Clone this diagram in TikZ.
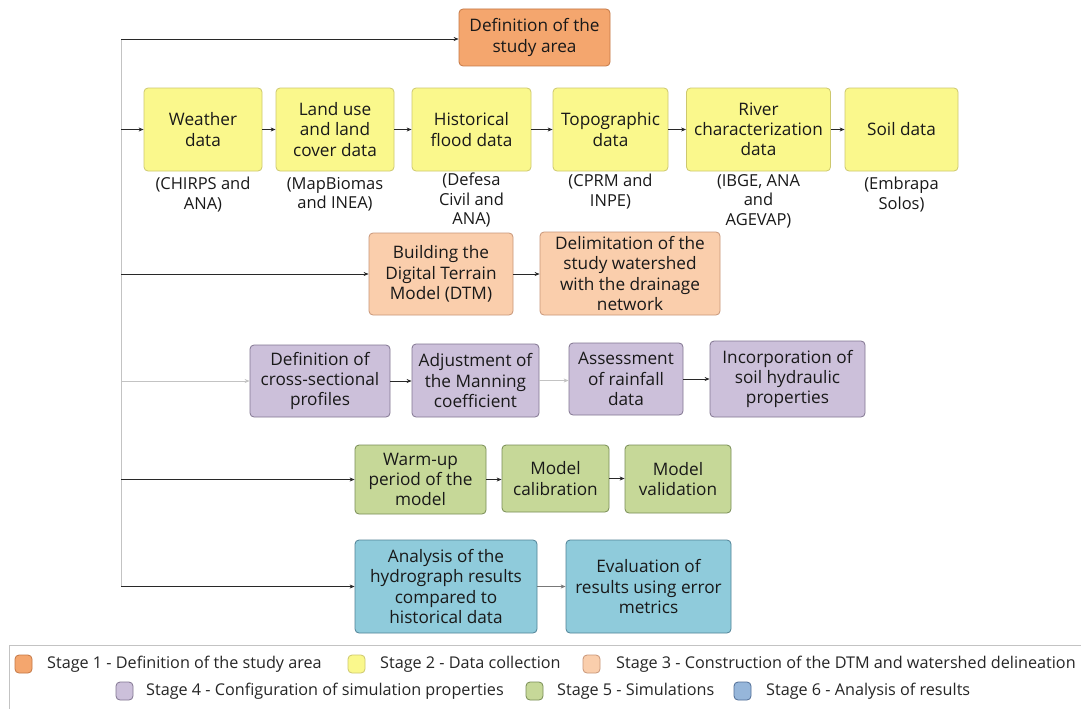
\documentclass[tikz,border=0pt]{standalone}
\usepackage{fontspec}
\setmainfont{Open Sans}
\usetikzlibrary{arrows.meta}
\definecolor{orF}{RGB}{244,166,110}
\definecolor{orD}{RGB}{196,120,70}
\definecolor{yeF}{RGB}{250,248,140}
\definecolor{yeD}{RGB}{205,200,110}
\definecolor{peF}{RGB}{250,206,172}
\definecolor{peD}{RGB}{200,150,120}
\definecolor{puF}{RGB}{204,192,218}
\definecolor{puD}{RGB}{130,118,145}
\definecolor{grF}{RGB}{198,216,152}
\definecolor{grD}{RGB}{120,140,85}
\definecolor{blF}{RGB}{143,203,219}
\definecolor{blD}{RGB}{80,130,150}
\definecolor{lbF}{RGB}{150,182,218}
\definecolor{lbD}{RGB}{80,110,150}
\definecolor{darkline}{RGB}{40,40,40}
\definecolor{lightline}{RGB}{195,195,195}
\definecolor{midline}{RGB}{120,120,120}
\tikzset{
  x=1pt, y=-1pt,
  box/.style={rounded corners=4pt, line width=0.8pt, align=center, inner sep=0pt,
    font=\fontsize{17.2}{20.2}\selectfont, text=black!90},
  orbox/.style={box, fill=orF, draw=orD},
  yebox/.style={box, fill=yeF, draw=yeD},
  pebox/.style={box, fill=peF, draw=peD},
  pubox/.style={box, fill=puF, draw=puD},
  grbox/.style={box, fill=grF, draw=grD},
  blbox/.style={box, fill=blF, draw=blD},
  src/.style={anchor=north, align=center, inner sep=0pt, font=\fontsize{16.5}{19.5}\selectfont, text=black!90},
  conn/.style={-{Stealth[length=5pt,width=4pt]}, line width=0.7pt, draw=darkline},
  lconn/.style={conn, draw=lightline},
  mconn/.style={conn, draw=midline},
  swatch/.style={rounded corners=4pt, line width=0.8pt, minimum width=17pt, minimum height=18pt, inner sep=0pt},
  legtext/.style={anchor=west, inner sep=0pt, font=\fontsize{16.2}{18}\selectfont, text=black!85},
}
\begin{document}
\begin{tikzpicture}
\useasboundingbox (0,0) rectangle (1081,709);
\fill[white] (0,0) rectangle (1081,709);

% Stage 1
\node[orbox, minimum width=151pt, minimum height=57pt] (study) at (534.5,37.5) {Definition of the\\study area};

% Stage 2
\node[yebox, minimum width=118pt, minimum height=83pt] (weather) at (203,129.5) {Weather\\data};
\node[yebox, minimum width=118pt, minimum height=83pt] (landuse) at (335,129.5) {Land use\\and land\\cover data};
\node[yebox, minimum width=119pt, minimum height=83pt] (hist) at (471.5,129.5) {Historical\\flood data};
\node[yebox, minimum width=115pt, minimum height=83pt] (topo) at (610.5,129.5) {Topographic\\data};
\node[yebox, minimum width=144pt, minimum height=83pt] (river) at (758.5,129.5) {River\\characterization\\data};
\node[yebox, minimum width=113pt, minimum height=83pt] (soil) at (901.5,129.5) {Soil data};

\node[src] (sw) at (203,177) {(CHIRPS and\\ANA)};
\node[src] (sl) at (335,177) {(MapBiomas\\and INEA)};
\node[src] (sh) at (471.5,173) {(Defesa\\Civil and\\ANA)};
\node[src] (st) at (610.5,174) {(CPRM and\\INPE)};
\node[src] (sr) at (758.5,174) {(IBGE, ANA\\and\\AGEVAP)};
\node[src] (ss) at (901.5,177) {(Embrapa\\Solos)};

% Stage 3
\node[pebox, minimum width=144pt, minimum height=82pt] (dtm) at (441,274) {Building the\\Digital Terrain\\Model (DTM)};
\node[pebox, minimum width=180pt, minimum height=83pt] (delim) at (630,273.5) {Delimitation of the\\study watershed\\with the drainage\\network};

% Stage 4
\node[pubox, minimum width=140pt, minimum height=72pt] (cross) at (320,381) {Definition of\\cross-sectional\\profiles};
\node[pubox, minimum width=127pt, minimum height=73pt] (manning) at (475.5,380.5) {Adjustment of\\the Manning\\coefficient};
\node[pubox, minimum width=114pt, minimum height=72pt] (rain) at (626,379) {Assessment\\of rainfall\\data};
\node[pubox, minimum width=155pt, minimum height=76pt] (soilhyd) at (787.5,379) {Incorporation of\\soil hydraulic\\properties};

% Stage 5
\node[grbox, minimum width=131pt, minimum height=69pt] (warm) at (420.5,479.5) {Warm-up\\period of the\\model};
\node[grbox, minimum width=107pt, minimum height=67pt] (calib) at (555.5,478.5) {Model\\calibration};
\node[grbox, minimum width=106pt, minimum height=68pt] (valid) at (678,479) {Model\\validation};

% Stage 6
\node[blbox, minimum width=182pt, minimum height=93pt] (hydro) at (446,586.5) {Analysis of the\\hydrograph results\\compared to\\historical data};
\node[blbox, minimum width=165pt, minimum height=93pt] (evalm) at (648.5,586.5) {Evaluation of\\results using error\\metrics};

% trunk line
\coordinate (v0) at (121,39);
\coordinate (v1) at (121,129.5);
\coordinate (v2) at (121,274);
\coordinate (v3) at (121,381);
\coordinate (v4) at (121,479.5);
\coordinate (v5) at (121,586.5);
\draw[line width=0.7pt, draw=lightline] (v0) -- (v5);

\draw[conn] (v0) -- (v0 -| study.west);
\draw[conn] (v1) -- (weather.west);
\draw[conn] (v2) -- (dtm.west);
\draw[lconn] (v3) -- (cross.west);
\draw[conn] (v4) -- (warm.west);
\draw[conn] (v5) -- (hydro.west);

\draw[conn] (weather.east) -- (landuse.west);
\draw[conn] (landuse.east) -- (hist.west);
\draw[conn] (hist.east) -- (topo.west);
\draw[conn] (topo.east) -- (river.west);
\draw[conn] (river.east) -- (soil.west);

\draw[conn] (dtm.east) -- (dtm.east -| delim.west);

\draw[conn] (cross.east) -- (cross.east -| manning.west);
\draw[lconn] (manning.east) -- (manning.east -| rain.west);
\draw[conn] (rain.east) -- (rain.east -| soilhyd.west);

\draw[conn] (warm.east) -- (warm.east -| calib.west);
\draw[conn] (calib.east) -- (calib.east -| valid.west);

\draw[mconn] (hydro.east) -- (evalm.west);

% legend
\draw[line width=0.8pt, draw=lightline] (9,715) -- (9,645.5) -- (1090,645.5);
\node[swatch, fill=orF, draw=orD] (l1) at (23.5,664) {};
\node[legtext] (t1) at (47,664) {Stage 1 - Definition of the study area};
\node[swatch, fill=yeF, draw=yeD] (l2) at (356.5,664) {};
\node[legtext] (t2) at (380,664) {Stage 2 - Data collection};
\node[swatch, fill=peF, draw=peD] (l3) at (591.5,664) {};
\node[legtext] (t3) at (616,664) {Stage 3 - Construction of the DTM and watershed delineation};
\node[swatch, fill=puF, draw=puD] (l4) at (124.5,691) {};
\node[legtext] (t4) at (146,691) {Stage 4 - Configuration of simulation properties};
\node[swatch, fill=grF, draw=grD] (l5) at (534.5,691) {};
\node[legtext] (t5) at (557,691) {Stage 5 - Simulations};
\node[swatch, fill=lbF, draw=lbD] (l6) at (742.5,691) {};
\node[legtext] (t6) at (766,691) {Stage 6 - Analysis of results};
\end{tikzpicture}
\end{document}
